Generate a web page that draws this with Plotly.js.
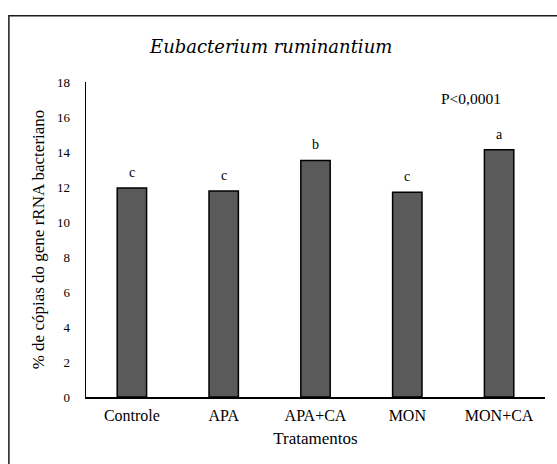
<!DOCTYPE html>
<html>
<head>
<meta charset="utf-8">
<script src="https://cdn.plot.ly/plotly-3.0.1.min.js"></script>
<style>
  html, body { margin: 0; padding: 0; background: #ffffff; }
  #chart { width: 557px; height: 464px; }
</style>
</head>
<body>
<div id="chart"></div>
<script>
// Treatments and mean share of Eubacterium ruminantium (% of bacterial rRNA gene copies)
const tratamentos = ["Controle", "APA", "APA+CA", "MON", "MON+CA"];
const percentuais = [11.95, 11.77, 13.52, 11.70, 14.13];
const letras = ["c", "c", "b", "c", "a"];
const yTicks = [0, 2, 4, 6, 8, 10, 12, 14, 16, 18];

const serif = "Liberation Serif, Times New Roman, serif";
const serifItalic = "DejaVu Serif, Liberation Serif, serif";

const barras = {
  type: "bar",
  x: tratamentos,
  y: percentuais,
  marker: { color: "#5a5a5a", line: { color: "#000000", width: 1.5 } },
  hoverinfo: "x+y"
};

// significance letters placed above each bar
const letrasAnot = tratamentos.map((t, i) => ({
  x: t, y: percentuais[i], xref: "x", yref: "y",
  text: letras[i], showarrow: false,
  yanchor: "bottom", yshift: 6,
  font: { family: serif, size: 14, color: "#000000" }
}));

const layout = {
  width: 557, height: 464,
  margin: { l: 86, r: 12, t: 82, b: 67 },
  paper_bgcolor: "#ffffff", plot_bgcolor: "#ffffff",
  showlegend: false,
  bargap: 0.68,
  font: { family: serif, color: "#000000" },
  xaxis: {
    type: "category",
    showline: true, linecolor: "#000000", linewidth: 1.5,
    ticks: "", showgrid: false, zeroline: false,
    tickfont: { family: serif, size: 16, color: "#000000" },
    ticklabelstandoff: 3,
    title: { text: "Tratamentos", font: { family: serif, size: 17, color: "#000000" }, standoff: 9 }
  },
  yaxis: {
    range: [0, 18],
    tickvals: yTicks, ticktext: yTicks.map(String),
    showline: true, linecolor: "#000000", linewidth: 1.5,
    ticks: "", showgrid: false, zeroline: false,
    tickfont: { family: serif, size: 13, color: "#000000" },
    ticklabelstandoff: 12,
    title: { text: "% de cópias do gene rRNA bacteriano", font: { family: serif, size: 17, color: "#000000" }, standoff: 8 }
  },
  annotations: letrasAnot.concat([
    {
      xref: "paper", yref: "paper", x: 0.401, y: 1.113,
      xanchor: "center", yanchor: "middle", showarrow: false,
      text: "Eubacterium ruminantium",
      font: { family: serifItalic, size: 18, style: "italic", color: "#000000" }
    },
    {
      xref: "paper", yref: "paper", x: 0.839, y: 0.948,
      xanchor: "center", yanchor: "middle", showarrow: false,
      text: "P<0,0001",
      font: { family: serif, size: 15.5, color: "#000000" }
    }
  ]),
  // outer chart frame (right and bottom edges run past the canvas)
  shapes: [{
    type: "rect", xref: "paper", yref: "paper",
    x0: -0.168, x1: 1.1, y0: -0.4, y1: 1.21,
    line: { color: "#1a1a1a", width: 1.5 }, fillcolor: "rgba(0,0,0,0)"
  }]
};

Plotly.newPlot("chart", [barras], layout, { displayModeBar: false, staticPlot: true });
</script>
</body>
</html>
